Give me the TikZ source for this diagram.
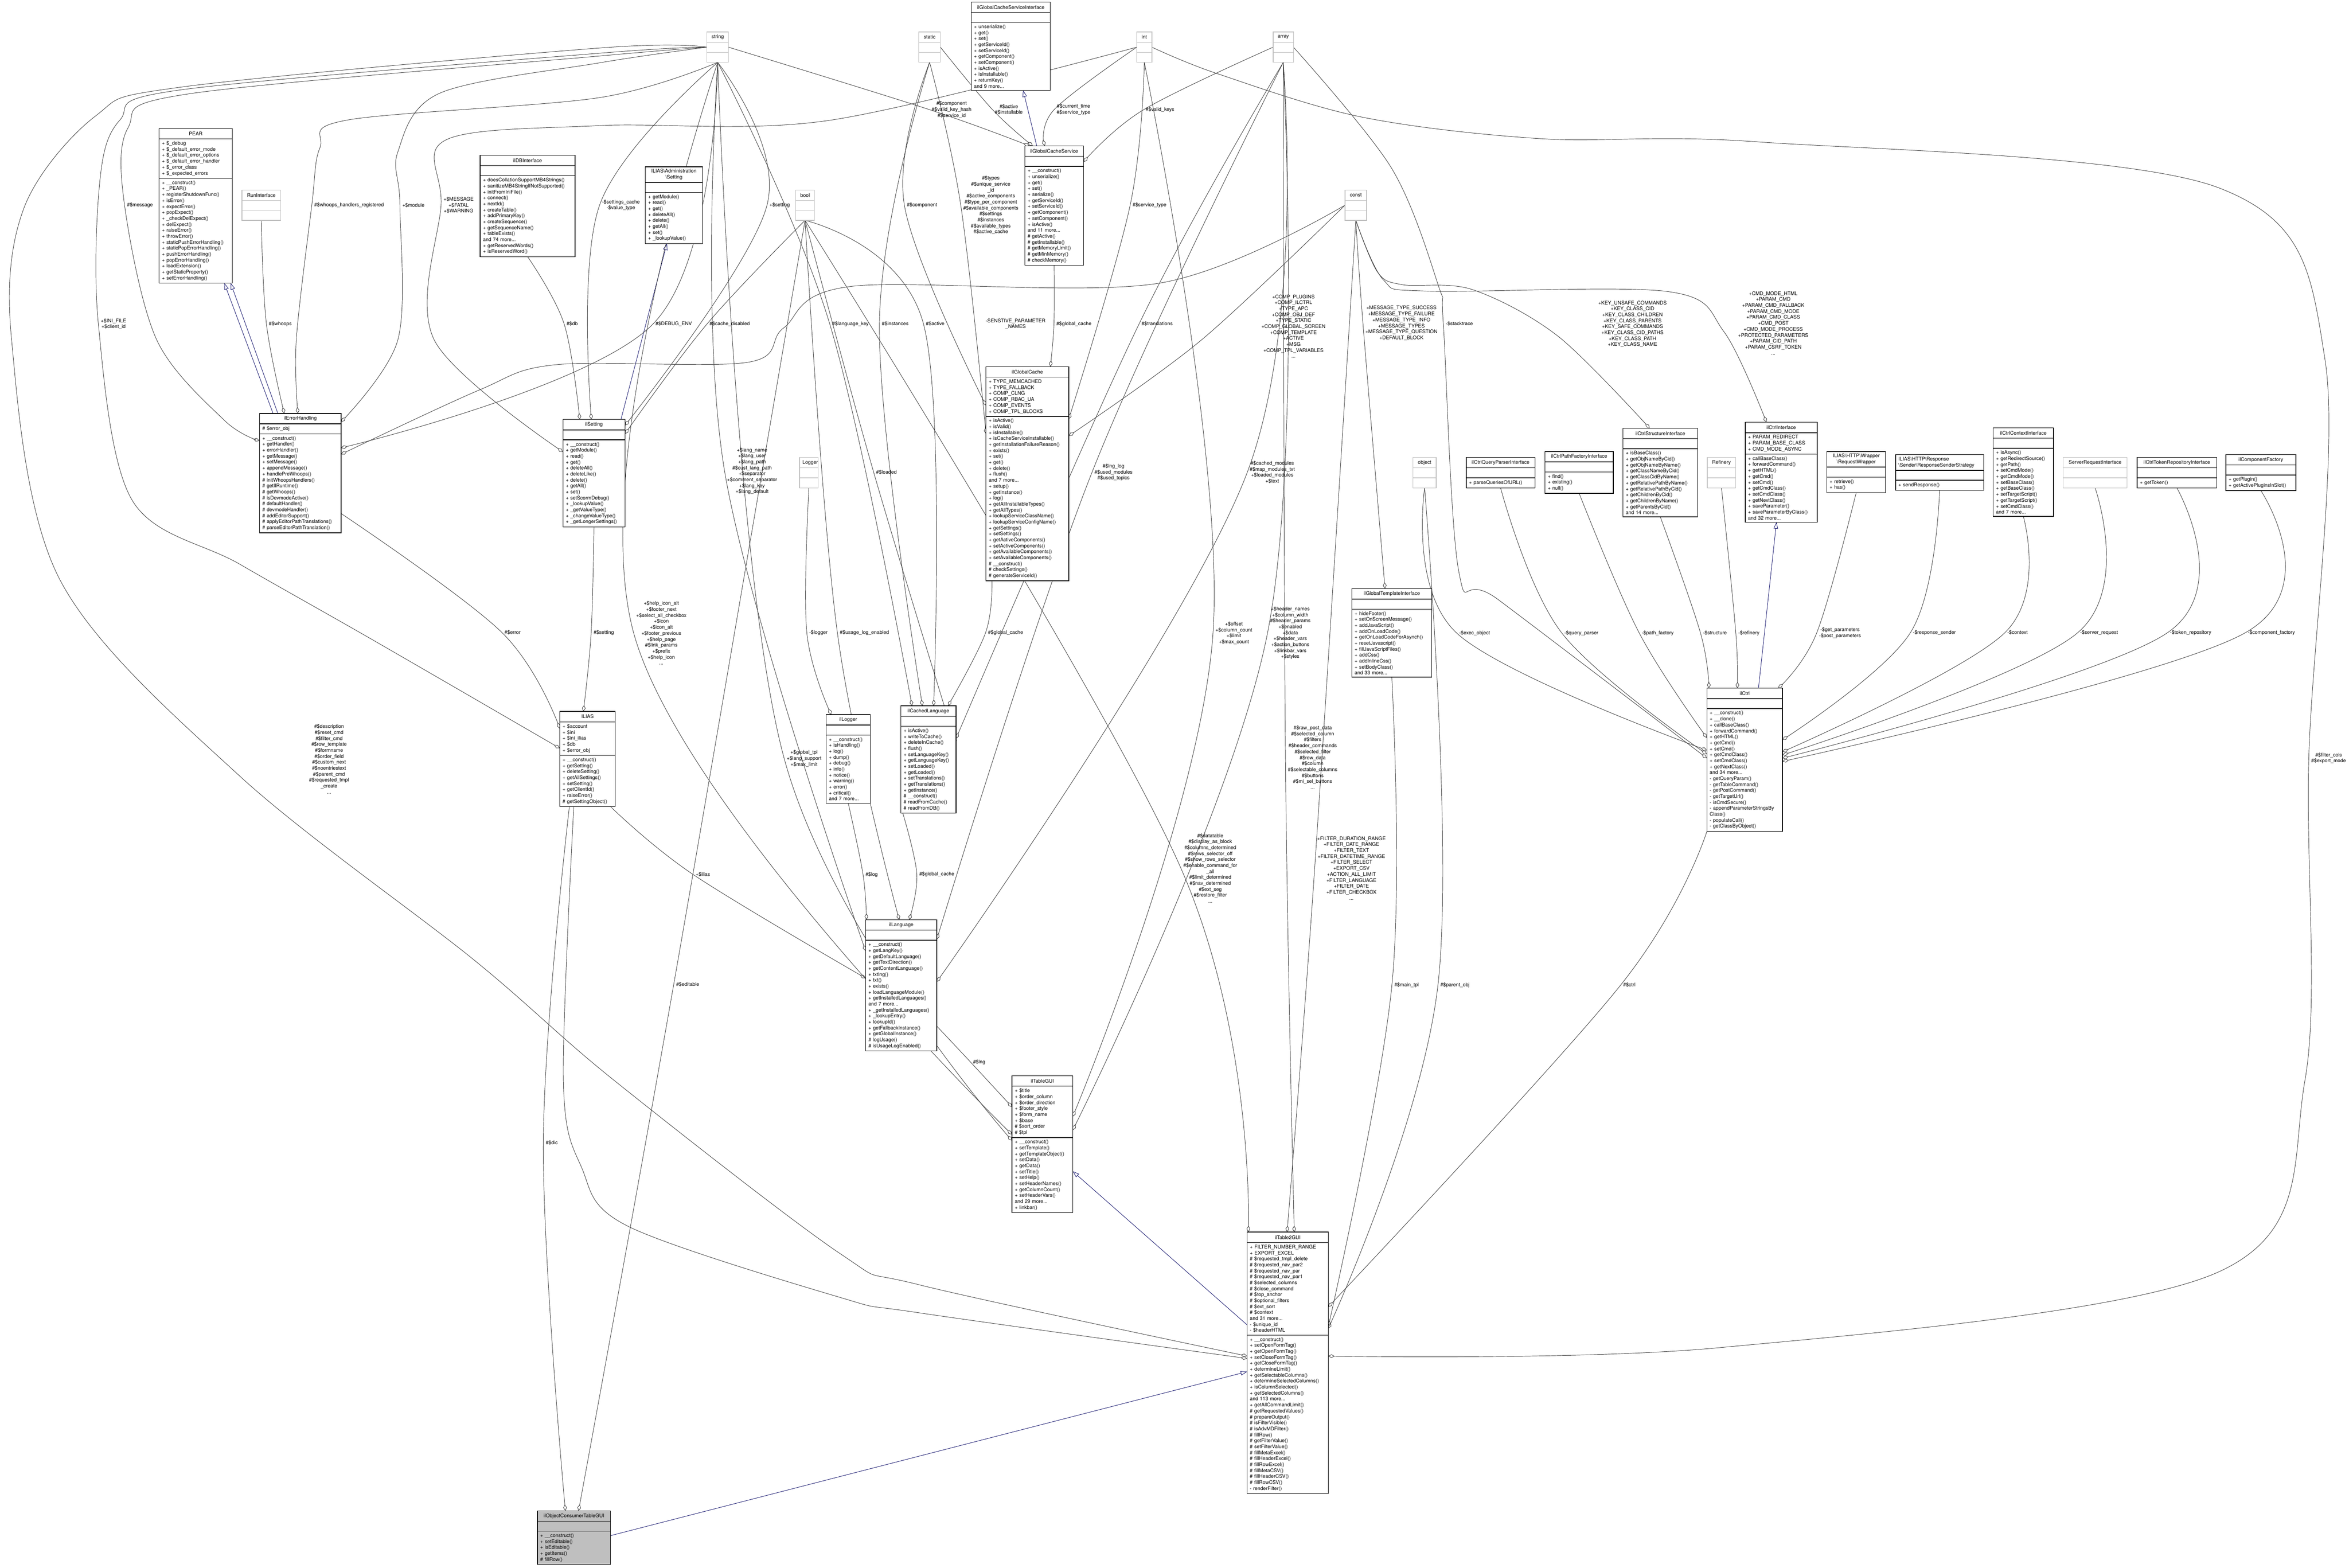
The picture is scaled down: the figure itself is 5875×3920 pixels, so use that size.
\documentclass[tikz,border=0pt]{standalone}
\usepackage{fontspec}
\setmainfont{TeX Gyre Heros}
\usetikzlibrary{arrows.meta,calc,fit}
\definecolor{edgegray}{HTML}{404040}
\definecolor{inhblue}{HTML}{191970}
\definecolor{typegray}{HTML}{BFBFBF}
\pgfdeclarelayer{bg}
\pgfsetlayers{bg,main}
\tikzset{
  fnt/.style={font=\fontsize{12.5}{14.9}\selectfont},
  part/.style={fnt, draw=black, fill=white, line width=1.6pt, outer sep=0pt, inner xsep=7pt, inner ysep=6pt, minimum height=25pt},
  ttl/.style={part, align=center, minimum height=26pt},
  sec/.style={part, align=left},
  lttl/.style={ttl, align=left},
  lsec/.style={sec},
  gttl/.style={ttl, draw=typegray},
  gsec/.style={sec, draw=typegray},
  fttl/.style={ttl, fill=typegray},
  fsec/.style={sec, fill=typegray},
  lbl/.style={fnt, align=center, inner sep=0pt},
  agg/.style={draw=edgegray, line width=1.1pt, -{Diamond[open, length=16pt, width=9pt]}},
  inh/.style={draw=inhblue, line width=1.1pt, -{Triangle[open, length=16pt, width=11pt]}},
}
\newcommand\umlbox[8]{%
  \node[#1ttl, text width=\dimexpr #5pt-14pt\relax, anchor=north west] (#2-t) at (#3,#4) {#6};
  \node[#1sec, text width=\dimexpr #5pt-14pt\relax, anchor=north west] (#2-a) at (#2-t.south west) {#7};
  \node[#1sec, text width=\dimexpr #5pt-14pt\relax, anchor=north west] (#2-m) at (#2-a.south west) {#8};
  \node[fit=(#2-t)(#2-a)(#2-m), inner sep=0pt, outer sep=0pt] (#2) {};
}
\newcommand\mypin[4]{\coordinate (#1) at ($(#2.north west)+(#3,#4)$);}
\newcommand\myagg[3]{\draw[agg] plot[smooth, tension=0.6] coordinates {(#1) ([xshift=-6pt]#2.west) (#3)};}
\begin{document}
\begin{tikzpicture}[x=1pt,y=-1pt]
\useasboundingbox (0,0) rectangle (5875,3920);
\begin{pgfonlayer}{bg}
\fill[white] (0,0) rectangle (5875,3920);
\end{pgfonlayer}

% ---------------- classes ----------------
\umlbox{}{PEAR}{398}{321}{183}{PEAR}{+ \$\_debug\\+ \$\_default\_error\_mode\\+ \$\_default\_error\_options\\+ \$\_default\_error\_handler\\+ \$\_error\_class\\+ \$\_expected\_errors}{+ \_\_construct()\\+ \_PEAR()\\+ registerShutdownFunc()\\+ isError()\\+ expectError()\\+ popExpect()\\+ \_checkDelExpect()\\+ delExpect()\\+ raiseError()\\+ throwError()\\+ staticPushErrorHandling()\\+ staticPopErrorHandling()\\+ pushErrorHandling()\\+ popErrorHandling()\\+ loadExtension()\\+ getStaticProperty()\\+ setErrorHandling()}
\umlbox{g}{RunInterface}{605}{475}{97}{RunInterface}{}{}
\umlbox{}{ilDBInterface}{1201}{388}{237}{ilDBInterface}{}{+ doesCollationSupportMB4Strings()\\+ sanitizeMB4StringIfNotSupported()\\+ initFromIniFile()\\+ connect()\\+ nextId()\\+ createTable()\\+ addPrimaryKey()\\+ createSequence()\\+ getSequenceName()\\+ tableExists()\\and 74 more...\\+ getReservedWords()\\+ isReservedWord()}
\umlbox{g}{string}{1768}{80}{54}{string}{}{}
\umlbox{}{AdminSetting}{1614}{417}{143}{ILIAS\textbackslash Administration\\\textbackslash Setting}{}{+ getModule()\\+ read()\\+ get()\\+ deleteAll()\\+ delete()\\+ getAll()\\+ set()\\+ \_lookupValue()}
\umlbox{g}{bool}{1990}{475}{47}{bool}{}{}
\umlbox{g}{static}{2298}{80}{54}{static}{}{}
\umlbox{}{ilGCSI}{2429}{5}{198}{ilGlobalCacheServiceInterface}{}{+ unserialize()\\+ get()\\+ set()\\+ getServiceId()\\+ setServiceId()\\+ getComponent()\\+ setComponent()\\+ isActive()\\+ isInstallable()\\+ returnKey()\\and 9 more...}
\umlbox{g}{int}{2843}{80}{38}{int}{}{}
\umlbox{}{ilGCS}{2563}{365}{147}{ilGlobalCacheService}{}{+ \_\_construct()\\+ unserialize()\\+ get()\\+ set()\\+ serialize()\\+ getServiceId()\\+ setServiceId()\\+ getComponent()\\+ setComponent()\\+ isActive()\\and 11 more...\\\# getActive()\\\# getInstallable()\\\# getMemoryLimit()\\\# getMinMemory()\\\# checkMemory()}
\umlbox{g}{array}{3184}{80}{51}{array}{}{}
\umlbox{g}{const}{3364}{475}{54}{const}{}{}
\umlbox{}{ilEH}{649}{1034}{204}{ilErrorHandling}{\# \$error\_obj}{+ \_\_construct()\\+ getHandler()\\+ errorHandler()\\+ getMessage()\\+ setMessage()\\+ appendMessage()\\+ handlePreWhoops()\\\# initWhoopsHandlers()\\\# getIlRuntime()\\\# getWhoops()\\\# isDevmodeActive()\\\# defaultHandler()\\\# devmodeHandler()\\\# addEditorSupport()\\\# applyEditorPathTranslations()\\\# parseEditorPathTranslation()}
\umlbox{}{ilSetting}{1408}{1049}{155}{ilSetting}{}{+ \_\_construct()\\+ getModule()\\+ read()\\+ get()\\+ deleteAll()\\+ deleteLike()\\+ delete()\\+ getAll()\\+ set()\\+ setScormDebug()\\+ \_lookupValue()\\+ \_getValueType()\\+ \_changeValueType()\\+ \_getLongerSettings()}
\umlbox{}{ilGC}{2466}{917}{207}{ilGlobalCache}{+ TYPE\_MEMCACHED\\+ TYPE\_FALLBACK\\+ COMP\_CLNG\\+ COMP\_RBAC\_UA\\+ COMP\_EVENTS\\+ COMP\_TPL\_BLOCKS}{+ isActive()\\+ isValid()\\+ isInstallable()\\+ isCacheServiceInstallable()\\+ getInstallationFailureReason()\\+ exists()\\+ set()\\+ get()\\+ delete()\\+ flush()\\and 7 more...\\+ setup()\\+ getInstance()\\+ log()\\+ getAllInstallableTypes()\\+ getAllTypes()\\+ lookupServiceClassName()\\+ lookupServiceConfigName()\\+ getSettings()\\+ setSettings()\\+ getActiveComponents()\\+ setActiveComponents()\\+ getAvailableComponents()\\+ setAvailableComponents()\\\# \_\_construct()\\\# checkSettings()\\\# generateServiceId()}
\umlbox{}{ilGTI}{3381}{1472}{200}{ilGlobalTemplateInterface}{}{+ hideFooter()\\+ setOnScreenMessage()\\+ addJavaScript()\\+ addOnLoadCode()\\+ getOnLoadCodeForAsynch()\\+ resetJavascript()\\+ fillJavaScriptFiles()\\+ addCss()\\+ addInlineCss()\\+ setBodyClass()\\and 33 more...}
\umlbox{g}{object}{3534}{1144}{58}{object}{}{}
\umlbox{}{ilCQPI}{3667}{1144}{172}{ilCtrlQueryParserInterface}{}{+ parseQueriesOfURL()}
\umlbox{}{ilCPFI}{3864}{1129}{171}{ilCtrlPathFactoryInterface}{}{+ find()\\+ existing()\\+ null()}
\umlbox{}{ilCSI}{4059}{1071}{187}{ilCtrlStructureInterface}{}{+ isBaseClass()\\+ getObjNameByCid()\\+ getObjNameByName()\\+ getClassNameByCid()\\+ getClassCidByName()\\+ getRelativePathByName()\\+ getRelativePathByCid()\\+ getChildrenByCid()\\+ getChildrenByName()\\+ getParentsByCid()\\and 14 more...}
\umlbox{g}{Refinery}{4270}{1144}{71}{Refinery}{}{}
\umlbox{}{ilCI}{4365}{1056}{180}{ilCtrlInterface}{+ PARAM\_REDIRECT\\+ PARAM\_BASE\_CLASS\\+ CMD\_MODE\_ASYNC}{+ callBaseClass()\\+ forwardCommand()\\+ getHTML()\\+ getCmd()\\+ setCmd()\\+ getCmdClass()\\+ setCmdClass()\\+ getNextClass()\\+ saveParameter()\\+ saveParameterByClass()\\and 32 more...}
\umlbox{}{RW}{4569}{1129}{147}{ILIAS\textbackslash HTTP\textbackslash Wrapper\\\textbackslash RequestWrapper}{}{+ retrieve()\\+ has()}
\umlbox{l}{RSS}{4741}{1137}{220}{ILIAS\textbackslash HTTP\textbackslash Response\\\textbackslash Sender\textbackslash ResponseSenderStrategy}{}{+ sendResponse()}
\umlbox{}{ilCCI}{4985}{1070}{151}{ilCtrlContextInterface}{}{+ isAsync()\\+ getRedirectSource()\\+ getPath()\\+ setCmdMode()\\+ getCmdMode()\\+ setBaseClass()\\+ getBaseClass()\\+ setTargetScript()\\+ getTargetScript()\\+ setCmdClass()\\and 7 more...}
\umlbox{g}{SRI}{5160}{1144}{160}{ServerRequestInterface}{}{}
\umlbox{}{ilCTRI}{5345}{1144}{199}{ilCtrlTokenRepositoryInterface}{}{+ getToken()}
\umlbox{}{ilCF}{5567}{1137}{175}{ilComponentFactory}{}{+ getPlugin()\\+ getActivePluginsInSlot()}
\umlbox{g}{Logger}{2000}{1144}{46}{Logger}{}{}
\umlbox{}{ilCtrl}{4269}{1721}{189}{ilCtrl}{}{+ \_\_construct()\\+ \_\_clone()\\+ callBaseClass()\\+ forwardCommand()\\+ getHTML()\\+ getCmd()\\+ setCmd()\\+ getCmdClass()\\+ setCmdClass()\\+ getNextClass()\\and 34 more...\\- getQueryParam()\\- getTableCommand()\\- getPostCommand()\\- getTargetUrl()\\- isCmdSecure()\\- appendParameterStringsBy\\Class()\\- populateCall()\\- getClassByObject()}
\umlbox{}{ILIAS}{1400}{1779}{139}{ILIAS}{+ \$account\\+ \$ini\\+ \$ini\_ilias\\+ \$db\\+ \$error\_obj}{+ \_\_construct()\\+ getSetting()\\+ deleteSetting()\\+ getAllSettings()\\+ setSetting()\\+ getClientId()\\+ raiseError()\\\# getSettingObject()}
\umlbox{}{ilLogger}{2066}{1787}{111}{ilLogger}{}{+ \_\_construct()\\+ isHandling()\\+ log()\\+ dump()\\+ debug()\\+ info()\\+ notice()\\+ warning()\\+ error()\\+ critical()\\and 7 more...}
\umlbox{}{ilCL}{2253}{1765}{138}{ilCachedLanguage}{}{+ isActive()\\+ writeToCache()\\+ deleteInCache()\\+ flush()\\+ setLanguageKey()\\+ getLanguageKey()\\+ setLoaded()\\+ getLoaded()\\+ setTranslations()\\+ getTranslations()\\+ getInstance()\\\# \_\_construct()\\\# readFromCache()\\\# readFromDB()}
\umlbox{}{ilLanguage}{2165}{2300}{178}{ilLanguage}{}{+ \_\_construct()\\+ getLangKey()\\+ getDefaultLanguage()\\+ getTextDirection()\\+ getContentLanguage()\\+ txtlng()\\+ txt()\\+ exists()\\+ loadLanguageModule()\\+ getInstalledLanguages()\\and 7 more...\\+ \_getInstalledLanguages()\\+ \_lookupEntry()\\+ lookupId()\\+ getFallbackInstance()\\+ getGlobalInstance()\\\# logUsage()\\\# isUsageLogEnabled()}
\umlbox{}{ilTableGUI}{2531}{2690}{152}{ilTableGUI}{+ \$title\\+ \$order\_column\\+ \$order\_direction\\+ \$footer\_style\\+ \$form\_name\\+ \$base\\\# \$sort\_order\\\# \$tpl}{+ \_\_construct()\\+ setTemplate()\\+ getTemplateObject()\\+ setData()\\+ getData()\\+ setTitle()\\+ setHelp()\\+ setHeaderNames()\\+ getColumnCount()\\+ setHeaderVars()\\and 29 more...\\+ linkbar()}
\umlbox{}{ilTT}{3119}{3081}{203}{ilTable2GUI}{+ FILTER\_NUMBER\_RANGE\\+ EXPORT\_EXCEL\\\# \$requested\_tmpl\_delete\\\# \$requested\_nav\_par2\\\# \$requested\_nav\_par\\\# \$requested\_nav\_par1\\\# \$selected\_columns\\\# \$close\_command\\\# \$top\_anchor\\\# \$optional\_filters\\\# \$ext\_sort\\\# \$context\\and 31 more...\\- \$unique\_id\\- \$headerHTML}{+ \_\_construct()\\+ setOpenFormTag()\\+ getOpenFormTag()\\+ setCloseFormTag()\\+ getCloseFormTag()\\+ determineLimit()\\+ getSelectableColumns()\\+ determineSelectedColumns()\\+ isColumnSelected()\\+ getSelectedColumns()\\and 113 more...\\+ getAllCommandLimit()\\\# getRequestedValues()\\\# prepareOutput()\\\# isFilterVisible()\\\# isAdvMDFilter()\\\# fillRow()\\\# getFilterValue()\\\# setFilterValue()\\\# fillMetaExcel()\\\# fillHeaderExcel()\\\# fillRowExcel()\\\# fillMetaCSV()\\\# fillHeaderCSV()\\\# fillRowCSV()\\- renderFilter()}
\umlbox{f}{ilOCTG}{1344}{3778}{183}{ilObjectConsumerTableGUI}{}{+ \_\_construct()\\+ setEditable()\\+ isEditable()\\+ getItems()\\\# fillRow()}

% ---------------- labels ----------------
\node[lbl] (LA1) at (350,513) {\#\$message};
\node[lbl] (LA2) at (873,513) {\#\$whoops\_handlers\_registered};
\node[lbl] (LA3) at (1034,513) {+\$module};
\node[lbl] (LA4) at (1147,513) {+\$MESSAGE\\+\$FATAL\\+\$WARNING};
\node[lbl] (LA5) at (1553,513) {-\$settings\_cache\\-\$value\_type};
\node[lbl] (LA6) at (1950,513) {+\$setting};
\node[lbl] (LA7) at (2306,513) {\#\$component};
\node[lbl] (LA8) at (2478,513) {\#\$types\\\#\$unique\_service\\\_id\\\#\$active\_components\\\#\$type\_per\_component\\\#\$available\_components\\\#\$settings\\\#\$instances\\\#\$available\_types\\\#\$active\_cache};
\node[lbl] (LA9) at (2875,513) {\#\$service\_type};
\node[lbl] (LA10) at (2380,274) {\#\$component\\\#\$valid\_key\_hash\\\#\$service\_id};
\node[lbl] (LA11) at (2523,274) {\#\$active\\\#\$installable};
\node[lbl] (LA12) at (2685,274) {\#\$current\_time\\\#\$service\_type};
\node[lbl] (LA13) at (2901,275) {\#\$valid\_keys};

\node[lbl] (LB1) at (284,810) {+\$INI\_FILE\\+\$client\_id};
\node[lbl] (LB2) at (701,810) {\#\$whoops};
\node[lbl] (LB3) at (1431,810) {\#\$db};
\node[lbl] (LB4) at (1685,810) {\#\$DEBUG\_ENV};
\node[lbl] (LB5) at (1825,810) {\#\$cache\_disabled};
\node[lbl] (LB6) at (2127,810) {\#\$language\_key};
\node[lbl] (LB7) at (2239,810) {\#\$instances};
\node[lbl] (LB8) at (2339,810) {\#\$active};
\node[lbl] (LB9) at (2540,810) {-SENSTIVE\_PARAMETER\\\_NAMES};
\node[lbl] (LB10) at (2686,810) {\#\$global\_cache};
\node[lbl] (LB11) at (2894,810) {\#\$translations};
\node[lbl] (LB12) at (3235,816) {+COMP\_PLUGINS\\+COMP\_ILCTRL\\+TYPE\_APC\\+COMP\_OBJ\_DEF\\+TYPE\_STATIC\\+COMP\_GLOBAL\_SCREEN\\+COMP\_TEMPLATE\\+ACTIVE\\+MSG\\+COMP\_TPL\_VARIABLES\\...};
\node[lbl] (LB13) at (3505,808) {+MESSAGE\_TYPE\_SUCCESS\\+MESSAGE\_TYPE\_FAILURE\\+MESSAGE\_TYPE\_INFO\\+MESSAGE\_TYPES\\+MESSAGE\_TYPE\_QUESTION\\+DEFAULT\_BLOCK};
\node[lbl] (LB14) at (3650,810) {-\$stacktrace};
\node[lbl] (LB15) at (4083,810) {+KEY\_UNSAFE\_COMMANDS\\+KEY\_CLASS\_CID\\+KEY\_CLASS\_CHILDREN\\+KEY\_CLASS\_PARENTS\\+KEY\_SAFE\_COMMANDS\\+KEY\_CLASS\_CID\_PATHS\\+KEY\_CLASS\_PATH\\+KEY\_CLASS\_NAME};
\node[lbl] (LB16) at (4435,808) {+CMD\_MODE\_HTML\\+PARAM\_CMD\\+PARAM\_CMD\_FALLBACK\\+PARAM\_CMD\_MODE\\+PARAM\_CMD\_CLASS\\+CMD\_POST\\+CMD\_MODE\_PROCESS\\+PROTECTED\_PARAMETERS\\+PARAM\_CID\_PATH\\+PARAM\_CSRF\_TOKEN\\...};

\node[lbl] (LC1) at (1881,1178) {+\$lang\_name\\+\$lang\_user\\+\$lang\_path\\\#\$cust\_lang\_path\\+\$separator\\+\$comment\_separator\\+\$lang\_key\\+\$lang\_default};
\node[lbl] (LC2) at (2217,1181) {\#\$loaded};
\node[lbl] (LC3) at (2785,1181) {\#\$lng\_log\\\#\$used\_modules\\\#\$used\_topics};
\node[lbl] (LC4) at (3182,1181) {\#\$cached\_modules\\\#\$map\_modules\_txt\\+\$loaded\_modules\\+\$text};

\node[lbl] (LD1) at (1282,1582) {\#\$error};
\node[lbl] (LD2) at (1510,1582) {\#\$setting};
\node[lbl] (LD3) at (1654,1583) {+\$help\_icon\_alt\\+\$footer\_next\\+\$select\_all\_checkbox\\+\$icon\\+\$icon\_alt\\+\$footer\_previous\\+\$help\_page\\\#\$link\_params\\+\$prefix\\+\$help\_icon\\...};
\node[lbl] (LD4) at (2047,1582) {-\$logger};
\node[lbl] (LD5) at (2162,1582) {\#\$usage\_log\_enabled};
\node[lbl] (LD6) at (2515,1582) {\#\$global\_cache};
\node[lbl] (LD7) at (3086,1583) {+\$offset\\+\$column\_count\\+\$limit\\+\$max\_count};
\node[lbl] (LD8) at (3227,1583) {+\$header\_names\\+\$column\_width\\\#\$header\_params\\+\$enabled\\+\$data\\+\$header\_vars\\+\$action\_buttons\\+\$linkbar\_vars\\+\$styles};
\node[lbl] (LD9) at (3688,1583) {-\$exec\_object};
\node[lbl] (LD10) at (3955,1583) {-\$query\_parser};
\node[lbl] (LD11) at (4146,1583) {-\$path\_factory};
\node[lbl] (LD12) at (4289,1583) {-\$structure};
\node[lbl] (LD13) at (4374,1583) {-\$refinery};
\node[lbl] (LD14) at (4602,1583) {-\$get\_parameters\\-\$post\_parameters};
\node[lbl] (LD15) at (4838,1582) {-\$response\_sender};
\node[lbl] (LD16) at (5046,1582) {-\$context};
\node[lbl] (LD17) at (5250,1582) {-\$server\_request};
\node[lbl] (LD18) at (5479,1582) {-\$token\_repository};
\node[lbl] (LD19) at (5681,1582) {-\$component\_factory};

\node[lbl] (LE1) at (823,1898) {\#\$description\\\#\$reset\_cmd\\\#\$filter\_cmd\\\#\$row\_template\\\#\$formname\\\#\$order\_field\\\#\$custom\_next\\\#\$noentriestext\\\#\$parent\_cmd\\\#\$requested\_tmpl\\\_create\\...};
\node[lbl] (LE2) at (2011,1897) {+\$global\_tpl\\+\$lang\_support\\+\$max\_limit};
\node[lbl] (LE3) at (3283,1894) {\#\$raw\_post\_data\\\#\$selected\_column\\\#\$filters\\\#\$header\_commands\\\#\$selected\_filter\\\#\$row\_data\\\#\$column\\\#\$selectable\_columns\\\#\$buttons\\\#\$mi\_sel\_buttons\\...};
\node[lbl] (LE4) at (5824,1896) {\#\$filter\_cols\\\#\$export\_mode};

\node[lbl] (LF1) at (1758,2187) {+\$ilias};
\node[lbl] (LF2) at (2180,2187) {\#\$log};
\node[lbl] (LF3) at (2343,2186) {\#\$global\_cache};
\node[lbl] (LF4) at (3027,2171) {\#\$datatable\\\#\$display\_as\_block\\\#\$columns\_determined\\\#\$rows\_selector\_off\\\#\$show\_rows\_selector\\\#\$enable\_command\_for\\\_all\\\#\$limit\_determined\\\#\$nav\_determined\\\#\$ext\_seg\\\#\$restore\_filter\\...};
\node[lbl] (LF5) at (3380,2171) {+FILTER\_DURATION\_RANGE\\+FILTER\_DATE\_RANGE\\+FILTER\_TEXT\\+FILTER\_DATETIME\_RANGE\\+FILTER\_SELECT\\+EXPORT\_CSV\\+ACTION\_ALL\_LIMIT\\+FILTER\_LANGUAGE\\+FILTER\_DATE\\+FILTER\_CHECKBOX\\...};

\node[lbl] (LG1) at (1720,2462) {\#\$editable};
\node[lbl] (LG2) at (3518,2463) {\#\$main\_tpl};
\node[lbl] (LG3) at (3639,2463) {\#\$parent\_obj};
\node[lbl] (LG4) at (4075,2463) {\#\$ctrl};
\node[lbl] (LH1) at (2449,2656) {\#\$lng};
\node[lbl] (LH2) at (1380,2858) {\#\$dic};

% ---------------- connection points ----------------
\mypin{eh1}{ilEH}{0}{68}
\mypin{eh2}{ilEH}{204}{21}
\mypin{eh3}{ilEH}{204}{86}
\mypin{eh4}{ilEH}{204}{102}
\mypin{eh5}{ilEH}{96}{0}
\mypin{eh6}{ilEH}{62}{0}
\mypin{ehI1}{ilEH}{34}{0}
\mypin{ehI2}{ilEH}{46}{0}
\mypin{ehR}{ilEH}{204}{250}
\coordinate (pearB1) at ($(PEAR.south west)+(163,0)$);
\coordinate (pearB2) at ($(PEAR.south west)+(179,0)$);
\coordinate (admB) at ($(AdminSetting.south west)+(54,0)$);
\coordinate (gcsiB) at ($(ilGCSI.south west)+(130,0)$);
\mypin{ia1}{ILIAS}{0}{43}
\mypin{ia2}{ILIAS}{0}{92}
\mypin{ia3}{ILIAS}{59}{0}
\coordinate (iaB1) at ($(ILIAS.south west)+(24,0)$);
\coordinate (iaB2) at ($(ILIAS.south west)+(35,0)$);
\coordinate (iaB3) at ($(ILIAS.south west)+(127,0)$);
\mypin{se1}{ilSetting}{0}{81}
\mypin{se2}{ilSetting}{42}{0}
\mypin{se3}{ilSetting}{71}{0}
\mypin{se4}{ilSetting}{155}{15}
\mypin{se5}{ilSetting}{155}{36}
\mypin{seI}{ilSetting}{145}{0}
\mypin{gs1}{ilGCS}{12}{0}
\mypin{gs2}{ilGCS}{20}{0}
\mypin{gs3}{ilGCS}{50}{0}
\mypin{gs4}{ilGCS}{147}{40}
\mypin{gsI}{ilGCS}{30}{0}
\mypin{gc1}{ilGC}{0}{97}
\mypin{gc2}{ilGC}{0}{168}
\mypin{gc3}{ilGC}{161}{0}
\mypin{gc4}{ilGC}{207}{131}
\mypin{gc5}{ilGC}{207}{173}
\coordinate (gcB) at ($(ilGC.south west)+(15,0)$);
\mypin{cl1}{ilCL}{28}{0}
\mypin{cl2}{ilCL}{54}{0}
\mypin{cl3}{ilCL}{82}{0}
\mypin{cl4}{ilCL}{118}{0}
\mypin{cl5}{ilCL}{138}{82}
\mypin{cl6}{ilCL}{138}{95}
\coordinate (clB) at ($(ilCL.south west)+(5,0)$);
\mypin{lg1}{ilLogger}{13}{0}
\mypin{la1}{ilLanguage}{2}{0}
\mypin{la2}{ilLanguage}{84}{0}
\mypin{la3}{ilLanguage}{109}{0}
\mypin{la4}{ilLanguage}{0}{78}
\mypin{la5}{ilLanguage}{0}{146}
\mypin{la6}{ilLanguage}{178}{49}
\mypin{la7}{ilLanguage}{178}{155}
\mypin{laR}{ilLanguage}{178}{266}
\mypin{tg1}{ilTableGUI}{0}{78}
\mypin{tg2}{ilTableGUI}{0}{147}
\mypin{tg3}{ilTableGUI}{0}{162}
\mypin{tg4}{ilTableGUI}{152}{102}
\mypin{tg5}{ilTableGUI}{152}{136}
\mypin{tgI}{ilTableGUI}{152}{239}
\mypin{t2a}{ilTT}{3}{0}
\mypin{t2b}{ilTT}{100}{0}
\mypin{t2c}{ilTT}{118}{0}
\mypin{t2d}{ilTT}{203}{187}
\mypin{t2e}{ilTT}{203}{237}
\mypin{t2f}{ilTT}{203}{241}
\mypin{t2g}{ilTT}{203}{310}
\mypin{t2h}{ilTT}{0}{310}
\mypin{t2i}{ilTT}{0}{316}
\mypin{t2I}{ilTT}{0}{232}
\mypin{t2J}{ilTT}{0}{349}
\mypin{oc1}{ilOCTG}{70}{0}
\mypin{oc2}{ilOCTG}{103}{0}
\mypin{ocI}{ilOCTG}{183}{62}
\mypin{ctl1}{ilCtrl}{0}{124}
\mypin{ctl2}{ilCtrl}{0}{155}
\mypin{ctl3}{ilCtrl}{0}{165}
\mypin{ctl4}{ilCtrl}{0}{175}
\mypin{ctt1}{ilCtrl}{5}{0}
\mypin{ctt2}{ilCtrl}{76}{0}
\mypin{ctI}{ilCtrl}{129}{0}
\mypin{ctt3}{ilCtrl}{178}{0}
\mypin{ctr1}{ilCtrl}{189}{129}
\mypin{ctr2}{ilCtrl}{189}{159}
\mypin{ctr3}{ilCtrl}{189}{167}
\mypin{ctr4}{ilCtrl}{189}{175}
\mypin{ctr5}{ilCtrl}{189}{183}
\coordinate (ctB) at (ilCtrl.south west);
\coordinate (ciB) at ($(ilCI.south west)+(78,0)$);
\mypin{ciT}{ilCI}{53}{0}
\mypin{csT}{ilCSI}{67}{0}
\mypin{gtT}{ilGTI}{83}{0}

% route waypoints of the long sweeping connectors
\coordinate (wd1) at (1500,120);  \coordinate (wd2) at (459,217);  \coordinate (wd3) at (239,290);
\coordinate (wd4) at (60,520);    \coordinate (wd5) at (29,850);   \coordinate (wd6) at (150,1450);
\coordinate (wd7) at (600,1941);  \coordinate (wd8) at (1185,2400); \coordinate (wd9) at (1534,2700);
\coordinate (wd10) at (2100,3134); \coordinate (wd11) at (2300,3213);
\coordinate (wi1) at (1500,133);  \coordinate (wi2) at (450,225);  \coordinate (wi3) at (300,300);
\coordinate (wi4) at (250,450);   \coordinate (wi5) at (330,1250); \coordinate (wi6) at (600,1411);
\coordinate (wi7) at (932,1600);
\coordinate (wm1) at (1500,140);  \coordinate (wm2) at (470,235);  \coordinate (wm3) at (320,320);
\coordinate (wm4) at (392,850);   \coordinate (wm5) at (560,1050);
\coordinate (wh1) at (1500,244);  \coordinate (wh2) at (870,300);  \coordinate (wh3) at (800,370);
\coordinate (wh4) at (741,850);
\coordinate (wo1) at (1500,157);  \coordinate (wo2) at (1100,233); \coordinate (wo3) at (995,380);
\coordinate (wo4) at (995,850);
\coordinate (wg1) at (2074,301);  \coordinate (wg2) at (1500,314); \coordinate (wg3) at (1115,350);
\coordinate (wg4) at (1086,850);
\coordinate (wf0) at (3044,184);  \coordinate (wf00) at (3407,293); \coordinate (wf000) at (3857,347);
\coordinate (wf1) at (4400,355);  \coordinate (wf2) at (5550,470); \coordinate (wf3) at (5815,900);
\coordinate (wf4) at (5765,2700); \coordinate (wf5) at (5550,3180); \coordinate (wf6) at (4300,3370);
\coordinate (wl1) at (1409,2700); \coordinate (wl2) at (1454,2918); \coordinate (wl3) at (1570,3066);
\coordinate (wl4) at (2100,3244); \coordinate (wl5) at (2300,3283);
\coordinate (ws1) at (2900,708);  \coordinate (ws2) at (2130,716); \coordinate (ws3) at (1960,820);
\coordinate (ws4) at (1870,906);  \coordinate (ws5) at (1390,912); \coordinate (ws6) at (1197,976);
\coordinate (wk1) at (3445,680);  \coordinate (wk2) at (3508,712); \coordinate (wk3) at (3682,724);
\coordinate (wk4) at (3897,841);
\coordinate (wc1) at (3460,700);  \coordinate (wc2) at (3570,728); \coordinate (wc3) at (4171,729);
\coordinate (wc4) at (4312,830);
\coordinate (wt1) at (3480,420);  \coordinate (wt2) at (3598,716); \coordinate (wt3) at (3649,1432);
\coordinate (wt4) at (3748,1500);
\coordinate (wp1) at (3005,850);

% ---------------- connectors ----------------
\begin{pgfonlayer}{bg}
% inheritance
\draw[inh] (ehI1) -- (pearB1);
\draw[inh] (ehI2) -- (pearB2);
\draw[inh] (seI) -- (admB);
\draw[inh] (gsI) -- (gcsiB);
\draw[inh] (ctI) -- (ciB);
\draw[inh] (t2I) -- (tgI);
\draw[inh] (ocI) -- (t2J);
% long sweeping connectors
\draw[agg] plot[smooth, tension=0.55] coordinates {(string.west) (wm1) (wm2) (wm3) ([xshift=-6pt]LA1.west) (wm4) (wm5) (eh1)};
\draw[agg] plot[smooth, tension=0.55] coordinates {(string.west) (wi1) (wi2) (wi3) (wi4) ([xshift=-6pt]LB1.west) (wi5) (wi6) (wi7) (ia2)};
\draw[agg] plot[smooth, tension=0.55] coordinates {(string.west) (wd1) (wd2) (wd3) (wd4) (wd5) (wd6) (wd7) (wd8) (wd9) (wd10) (wd11) (t2h)};
\draw[agg] plot[smooth, tension=0.55] coordinates {(string.south) (wh1) (wh2) (wh3) ([xshift=-6pt]LA2.west) (wh4) (eh5)};
\draw[agg] plot[smooth, tension=0.55] coordinates {(string.west) (wo1) (wo2) (wo3) ([xshift=-6pt]LA3.west) (wo4) (eh2)};
\draw[agg] plot[smooth, tension=0.55] coordinates {(int.west) (wg1) (wg2) (wg3) ([xshift=-6pt]LA4.west) (wg4) (se1)};
\draw[agg] plot[smooth, tension=0.55] coordinates {(int.east) (wf0) (wf00) (wf000) (wf1) (wf2) (wf3) ([xshift=-6pt]LE4.west) (wf4) (wf5) (wf6) (t2g)};
\draw[agg] plot[smooth, tension=0.55] coordinates {(iaB2) (wl1) (wl2) (wl3) (wl4) (wl5) (t2i)};
\draw[agg] plot[smooth, tension=0.55] coordinates {(const.west) (ws1) (ws2) (ws3) (ws4) (ws5) (ws6) (eh4)};
\draw[agg] plot[smooth, tension=0.55] coordinates {(const.south) (wk1) (wk2) (wk3) (wk4) (csT)};
\draw[agg] plot[smooth, tension=0.55] coordinates {(const.south) (wc1) (wc2) (wc3) (wc4) (ciT)};
\draw[agg] plot[smooth, tension=0.55] coordinates {(array.east) (wt1) (wt2) ([xshift=-6pt]LB14.west) (wt3) (wt4) (ctl4)};
\draw[agg] plot[smooth, tension=0.55] coordinates {(const.west) (wp1) (gc5)};
% top row labels
\myagg{string.south}{LA5}{se3}
\myagg{string.south}{LA6}{se4}
\myagg{static.south}{LA7}{gc1}
\myagg{static.south}{LA8}{gc2}
\myagg{int.south}{LA9}{gc4}
\myagg{string.east}{LA10}{gs1}
\myagg{static.east}{LA11}{gs2}
\myagg{int.west}{LA12}{gs3}
\myagg{array.west}{LA13}{gs4}
% second row
\myagg{RunInterface.south}{LB2}{eh6}
\myagg{ilDBInterface.south}{LB3}{se2}
\myagg{string.south}{LB4}{eh3}
\myagg{bool.south}{LB5}{se5}
\myagg{string.south}{LB6}{cl1}
\myagg{static.south}{LB7}{cl2}
\myagg{bool.south}{LB8}{cl3}
\myagg{ilGCS.south}{LB10}{gc3}
\myagg{array.south}{LB11}{cl5}
\myagg{const.south}{LB13}{gtT}
% third row
\myagg{string.south}{LC1}{la4}
\myagg{bool.south}{LC2}{cl6}
\myagg{array.south}{LC3}{la6}
\myagg{array.south}{LC4}{la7}
% fourth row
\myagg{ehR}{LD1}{ia1}
\myagg{ilSetting.south}{LD2}{ia3}
\myagg{string.south}{LD3}{tg2}
\myagg{Logger.south}{LD4}{lg1}
\myagg{bool.south}{LD5}{la2}
\myagg{gcB}{LD6}{cl4}
\myagg{int.south}{LD7}{tg4}
\myagg{array.south}{LD8}{tg5}
\myagg{object.south}{LD9}{ctl2}
\myagg{ilCQPI.south}{LD10}{ctl3}
\myagg{ilCPFI.south}{LD11}{ctl1}
\myagg{ilCSI.south}{LD12}{ctt1}
\myagg{Refinery.south}{LD13}{ctt2}
\myagg{RW.south}{LD14}{ctt3}
\myagg{RSS.south}{LD15}{ctr1}
\myagg{ilCCI.south}{LD16}{ctr2}
\myagg{SRI.south}{LD17}{ctr3}
\myagg{ilCTRI.south}{LD18}{ctr4}
\myagg{ilCF.south}{LD19}{ctr5}
% fifth row
\myagg{string.south}{LE2}{tg3}
\myagg{array.south}{LE3}{t2c}
% lower rows
\myagg{iaB3}{LF1}{la5}
\myagg{ilLogger.south}{LF2}{la1}
\myagg{clB}{LF3}{la3}
\myagg{bool.south}{LF4}{t2a}
\myagg{const.south}{LF5}{t2b}
\myagg{bool.south}{LG1}{oc2}
\myagg{ilGTI.south}{LG2}{t2e}
\myagg{object.south}{LG3}{t2f}
\myagg{ctB}{LG4}{t2d}
\myagg{laR}{LH1}{tg1}
\myagg{iaB1}{LH2}{oc1}
\end{pgfonlayer}
\end{tikzpicture}
\end{document}
